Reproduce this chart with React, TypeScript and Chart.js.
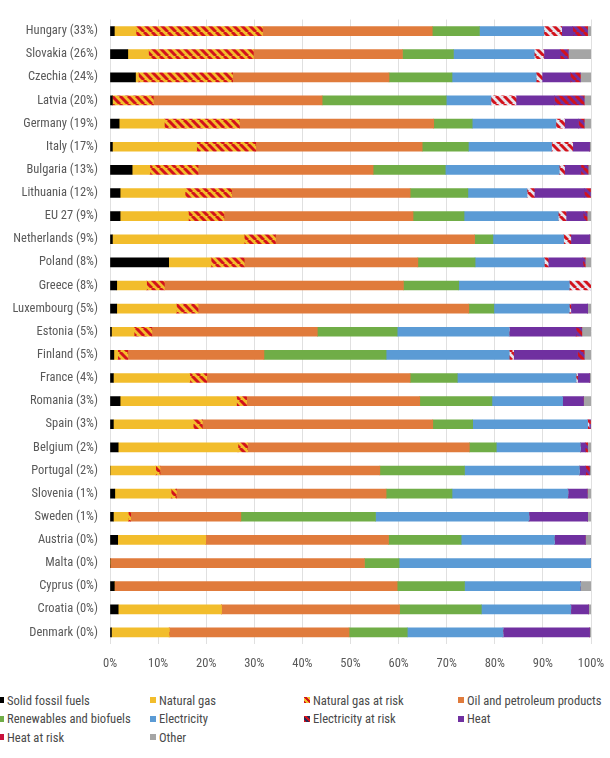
import React, { useEffect, useRef } from "react";
import { Chart, registerables } from "chart.js";
Chart.register(...registerables);

const countries = [
  "Hungary (33%)", "Slovakia (26%)", "Czechia (24%)", "Latvia (20%)", "Germany (19%)",
  "Italy (17%)", "Bulgaria (13%)", "Lithuania (12%)", "EU 27 (9%)", "Netherlands (9%)",
  "Poland (8%)", "Greece (8%)", "Luxembourg (5%)", "Estonia (5%)", "Finland (5%)",
  "France (4%)", "Romania (3%)", "Spain (3%)", "Belgium (2%)", "Portugal (2%)",
  "Slovenia (1%)", "Sweden (1%)", "Austria (0%)", "Malta (0%)", "Cyprus (0%)",
  "Croatia (0%)", "Denmark (0%)",
];

const solidFossil = [0.9, 3.7, 5.3, 0.5, 1.9, 0.5, 4.6, 2.1, 2.1, 0.5, 12.2, 1.4, 1.4, 0.3, 0.8, 0.7, 2.1, 0.7, 1.7, 0, 1.0, 0.7, 1.6, 0, 0.9, 1.7, 0.3];
const naturalGas = [4.5, 4.3, 0.6, 0, 9.4, 17.5, 3.7, 13.5, 14.2, 27.4, 8.8, 6.2, 12.4, 4.7, 0.8, 15.9, 24.2, 16.6, 24.9, 9.5, 11.7, 3.1, 18.3, 0, 0, 21.5, 12.0];
const naturalGasRisk = [26.3, 21.8, 19.6, 8.5, 15.6, 12.3, 10.0, 9.7, 7.4, 6.5, 6.9, 3.7, 4.5, 3.7, 2.1, 3.5, 2.1, 1.9, 2.0, 0.9, 1.1, 0.5, 0, 0, 0, 0, 0];
const oilPetroleum = [35.3, 31.0, 32.5, 35.1, 40.4, 34.6, 36.4, 37.1, 39.3, 41.4, 36.1, 49.7, 56.3, 34.4, 28.3, 42.3, 36.0, 47.9, 46.1, 45.7, 43.6, 22.9, 38.0, 52.9, 58.8, 37.0, 37.4];
const renewables = [9.8, 10.6, 13.1, 25.8, 8.0, 9.6, 15.0, 12.0, 10.6, 3.8, 11.9, 11.5, 5.2, 16.6, 25.4, 9.8, 15.0, 8.3, 5.6, 17.6, 13.7, 28.0, 15.1, 7.2, 14.0, 17.0, 12.1];
const electricity = [13.4, 16.8, 17.5, 9.3, 17.4, 17.3, 23.7, 12.3, 19.6, 14.7, 14.4, 23.0, 15.7, 23.3, 25.6, 24.7, 14.7, 23.9, 17.5, 23.9, 24.1, 31.9, 19.4, 39.9, 24.1, 18.6, 19.9];
const electricityRisk = [3.7, 2.0, 1.2, 5.2, 1.8, 4.4, 1.1, 1.5, 1.6, 1.5, 0.8, 4.5, 0.3, 0, 0.9, 0.3, 0, 0.3, 0, 0, 0, 0, 0, 0, 0, 0, 0];
const heat = [2.3, 3.4, 5.9, 8.0, 2.9, 3.5, 3.4, 10.4, 3.6, 3.9, 7.2, 0, 3.5, 13.9, 13.3, 2.5, 4.3, 0, 1.0, 1.3, 4.0, 12.2, 6.4, 0, 0, 3.7, 18.0];
const heatRisk = [3.1, 1.7, 2.1, 6.2, 1.2, 0, 1.5, 1.3, 0.8, 0, 0.5, 0, 0, 1.2, 1.4, 0, 0, 0.3, 0.5, 0.8, 0, 0, 0, 0, 0, 0, 0];
const other = [0.7, 4.7, 2.2, 1.4, 1.4, 0.3, 0.6, 0.1, 0.8, 0.3, 1.2, 0, 0.7, 1.9, 1.4, 0.3, 1.6, 0.1, 0.7, 0.3, 0.8, 0.7, 1.2, 0, 2.2, 0.5, 0.3];

const xTicks = [0, 10, 20, 30, 40, 50, 60, 70, 80, 90, 100];

const RED = "#d3121c";
const YELLOW = "#f2bd2c";
const PURPLE = "#7030a0";
const FONT = "'Liberation Sans Narrow', 'Arial Narrow', 'Roboto Condensed', 'Open Sans', sans-serif";

type Series = { label: string; data: number[]; color: string; pattern?: [string, string]; swatch: string };

const series: Series[] = [
  { label: "Solid fossil fuels", data: solidFossil, color: "#000000", swatch: "#000000" },
  { label: "Natural gas", data: naturalGas, color: YELLOW, swatch: YELLOW },
  { label: "Natural gas at risk", data: naturalGasRisk, color: YELLOW, pattern: [YELLOW, RED], swatch: `repeating-linear-gradient(45deg, ${RED} 0 2px, ${YELLOW} 2px 4px)` },
  { label: "Oil and petroleum products", data: oilPetroleum, color: "#e07b3c", swatch: "#e07b3c" },
  { label: "Renewables and biofuels", data: renewables, color: "#70ad47", swatch: "#70ad47" },
  { label: "Electricity", data: electricity, color: "#5b9bd5", swatch: "#5b9bd5" },
  { label: "Electricity at risk", data: electricityRisk, color: "#e6e6ee", pattern: ["#e6e6ee", RED], swatch: `repeating-linear-gradient(45deg, ${RED} 0 2px, #2a2a55 2px 4px)` },
  { label: "Heat", data: heat, color: PURPLE, swatch: PURPLE },
  { label: "Heat at risk", data: heatRisk, color: RED, pattern: [PURPLE, RED], swatch: "#c8103a" },
  { label: "Other", data: other, color: "#a5a5a5", swatch: "#a5a5a5" },
];

function stripes(base: string, stripe: string): CanvasPattern | string {
  const p = 8;
  const c = document.createElement("canvas");
  c.width = p;
  c.height = p;
  const g = c.getContext("2d");
  if (!g) return base;
  g.fillStyle = base;
  g.fillRect(0, 0, p, p);
  g.strokeStyle = stripe;
  g.lineWidth = 3;
  for (const o of [-p, 0, p]) {
    g.beginPath();
    g.moveTo(o, 0);
    g.lineTo(o + p, p);
    g.stroke();
  }
  return g.createPattern(c, "repeat") || base;
}

const legendCols = [-2, 150, 304, 458];

export default function App() {
  const ref = useRef<HTMLCanvasElement>(null);

  useEffect(() => {
    if (!ref.current) return;
    const chart = new Chart(ref.current, {
      type: "bar",
      data: {
        labels: countries,
        datasets: series.map((s) => ({
          label: s.label,
          data: s.data,
          backgroundColor: s.pattern ? stripes(s.pattern[0], s.pattern[1]) : s.color,
          borderWidth: 0,
          barThickness: 9,
        })),
      },
      options: {
        indexAxis: "y",
        responsive: false,
        animation: false,
        layout: { padding: { left: 0, right: 19, top: 9, bottom: 0 } },
        plugins: { legend: { display: false }, tooltip: { enabled: false } },
        scales: {
          x: {
            stacked: true,
            min: 0,
            max: 100,
            afterBuildTicks: (s: any) => {
              s.ticks = xTicks.map((v) => ({ value: v }));
            },
            ticks: {
              callback: (v: any) => v + "%",
              color: "#595959",
              font: { family: FONT, size: 12.5 },
              padding: 12,
              maxRotation: 0,
            },
            grid: { color: "#e0e0e0", drawTicks: false, lineWidth: 1 },
            border: { display: false },
            afterFit: (s: any) => {
              s.height = 31;
              s.paddingLeft = 0;
              s.paddingRight = 0;
            },
          },
          y: {
            stacked: true,
            grid: { display: false, drawTicks: false },
            border: { display: false },
            ticks: {
              color: "#595959",
              font: { family: FONT, size: 12.5 },
              padding: 12,
              autoSkip: false,
            },
            afterFit: (s: any) => {
              s.width = 110;
            },
          },
        },
      },
    } as any);
    return () => chart.destroy();
  }, []);

  return (
    <div style={{ position: "absolute", left: 0, top: 0, width: 610, height: 758, background: "#fff", overflow: "hidden" }}>
      <canvas ref={ref} width={610} height={675} style={{ display: "block" }} />
      {series.map((s, i) => {
        const col = i % 4;
        const row = Math.floor(i / 4);
        return (
          <div
            key={s.label}
            style={{
              position: "absolute",
              left: legendCols[col],
              top: 691 + row * 18.5,
              height: 18,
              display: "flex",
              alignItems: "center",
              fontFamily: FONT,
              fontSize: 12.6,
              color: "#4a4a4a",
              whiteSpace: "nowrap",
            }}
          >
            <span style={{ display: "inline-block", width: 6, height: 6, background: s.swatch, marginRight: 3 }} />
            <span>{s.label}</span>
          </div>
        );
      })}
    </div>
  );
}
